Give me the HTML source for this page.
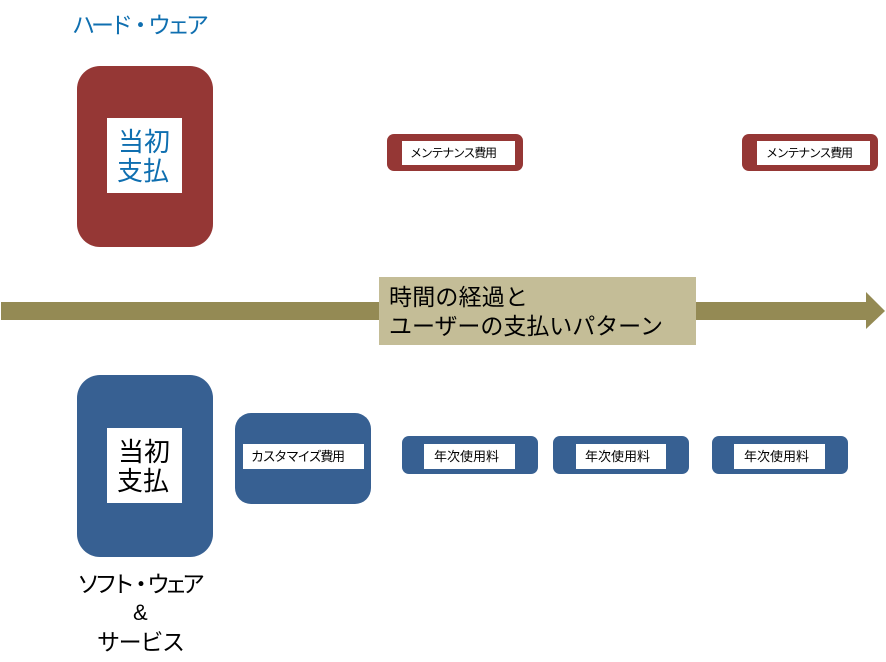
<!DOCTYPE html>
<html lang="ja">
<head>
<meta charset="utf-8">
<style>
html,body{margin:0;padding:0;background:#fff;width:886px;height:662px;overflow:hidden}
svg{display:block}
text{font-family:"Liberation Sans","Noto Sans CJK JP",sans-serif}
</style>
</head>
<body>
<svg width="886" height="662" viewBox="0 0 886 662" xmlns="http://www.w3.org/2000/svg">
<rect width="886" height="662" fill="#fff"/>

<text x="72" y="33" font-size="23" fill="#0f6fb0" textLength="137" lengthAdjust="spacing">ハード・ウェア</text>

<rect x="77" y="66" width="136" height="181" rx="23" fill="#953735"/>
<rect x="107" y="118" width="75" height="75" fill="#fff"/>
<text x="118" y="151" font-size="26" fill="#0f6fb0" textLength="52" lengthAdjust="spacing">当初</text>
<text x="117" y="180" font-size="26" fill="#0f6fb0" textLength="52" lengthAdjust="spacing">支払</text>

<rect x="387" y="134" width="136" height="37" rx="7" fill="#953735"/>
<rect x="402" y="141" width="113" height="24" fill="#fff"/>
<text x="410" y="157" font-size="12" fill="#000" textLength="87" lengthAdjust="spacing">メンテナンス費用</text>

<rect x="742" y="134" width="136" height="37" rx="7" fill="#953735"/>
<rect x="757" y="141" width="113" height="24" fill="#fff"/>
<text x="766" y="157" font-size="12" fill="#000" textLength="87" lengthAdjust="spacing">メンテナンス費用</text>

<polygon points="1,302 866,302 866,292 885,311 866,329 866,320 1,320" fill="#948a54"/>
<rect x="379" y="277" width="317" height="68" fill="#c4bd97"/>
<text x="389" y="305" font-size="23" fill="#000" textLength="139" lengthAdjust="spacing">時間の経過と</text>
<text x="389" y="334" font-size="23" fill="#000" textLength="274" lengthAdjust="spacing">ユーザーの支払いパターン</text>

<rect x="77" y="375" width="136" height="182" rx="23" fill="#376092"/>
<rect x="107" y="428" width="75" height="75" fill="#fff"/>
<text x="118" y="461" font-size="26" fill="#000" textLength="52" lengthAdjust="spacing">当初</text>
<text x="117" y="490" font-size="26" fill="#000" textLength="52" lengthAdjust="spacing">支払</text>

<rect x="235" y="413" width="136" height="91" rx="16" fill="#376092"/>
<rect x="243" y="444" width="121" height="25" fill="#fff"/>
<text x="251" y="461" font-size="13" fill="#000" textLength="94" lengthAdjust="spacing">カスタマイズ費用</text>

<rect x="402" y="436" width="136" height="38" rx="7" fill="#376092"/>
<rect x="424" y="444" width="91" height="25" fill="#fff"/>
<text x="434" y="461" font-size="13" fill="#000" textLength="65" lengthAdjust="spacing">年次使用料</text>

<rect x="553" y="436" width="136" height="38" rx="7" fill="#376092"/>
<rect x="576" y="444" width="90" height="25" fill="#fff"/>
<text x="585" y="461" font-size="13" fill="#000" textLength="65" lengthAdjust="spacing">年次使用料</text>

<rect x="712" y="436" width="136" height="38" rx="7" fill="#376092"/>
<rect x="734" y="444" width="91" height="25" fill="#fff"/>
<text x="744" y="461" font-size="13" fill="#000" textLength="65" lengthAdjust="spacing">年次使用料</text>

<text x="77" y="592" font-size="23" fill="#000" textLength="128" lengthAdjust="spacing">ソフト・ウェア</text>
<text x="133" y="620" font-size="22" fill="#000">&amp;</text>
<text x="97" y="650" font-size="23" fill="#000" textLength="88" lengthAdjust="spacing">サービス</text>
</svg>
</body>
</html>
